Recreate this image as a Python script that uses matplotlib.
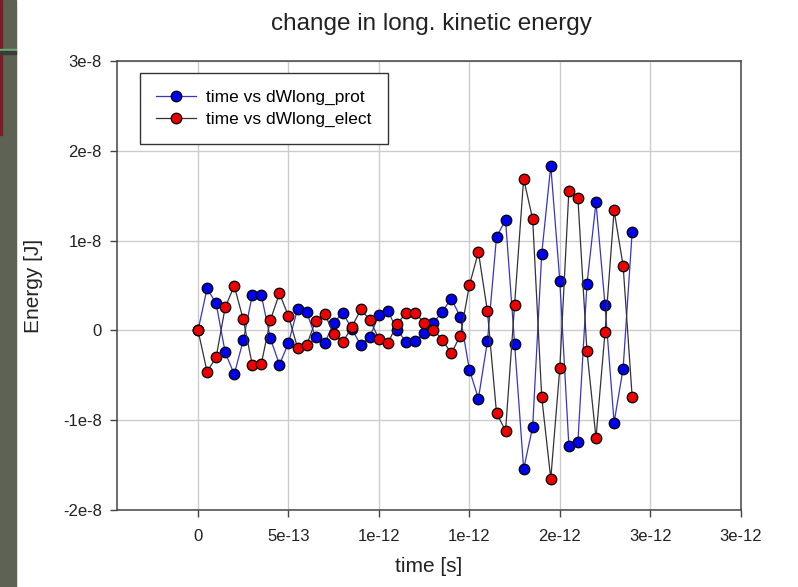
import matplotlib
matplotlib.use("Agg")
import matplotlib.pyplot as plt
from matplotlib.patches import Rectangle

plt.rcParams['font.family'] = ['Liberation Sans', 'DejaVu Sans']

# time in ps, energies in 1e-8 J
time_ps = [0.00, 0.05, 0.10, 0.15, 0.20, 0.25, 0.30, 0.35, 0.40, 0.45,
           0.50, 0.55, 0.60, 0.65, 0.70, 0.75, 0.80, 0.85, 0.90, 0.95,
           1.00, 1.05, 1.10, 1.15, 1.20, 1.25, 1.30, 1.35, 1.40, 1.45,
           1.50, 1.55, 1.60, 1.65, 1.70, 1.75, 1.80, 1.85, 1.90, 1.95,
           2.00, 2.05, 2.10, 2.15, 2.20, 2.25, 2.30, 2.35, 2.40]

dw_prot = [0, 0.467, 0.30, -0.244, -0.489, -0.111, 0.396, 0.389, -0.089, -0.381,
           -0.141, 0.237, 0.207, -0.078, -0.144, 0.085, 0.196, 0.019, -0.167, -0.07,
           0.174, 0.215, 0.004, -0.124, -0.12, -0.032, 0.08, 0.21, 0.354, 0.15,
           -0.438, -0.759, -0.12, 1.04, 1.23, -0.148, -1.544, -1.074, 0.853, 1.833,
           0.552, -1.285, -1.244, 0.514, 1.425, 0.281, -1.026, -0.426, 1.098]

dw_elect = [0, -0.46, -0.30, 0.256, 0.496, 0.122, -0.385, -0.37, 0.115, 0.411,
            0.159, -0.193, -0.167, 0.107, 0.185, -0.037, -0.133, 0.037, 0.233, 0.119,
            -0.096, -0.141, 0.07, 0.195, 0.195, 0.083, 0.009, -0.102, -0.256, -0.058,
            0.502, 0.872, 0.211, -0.918, -1.12, 0.287, 1.688, 1.239, -0.744, -1.652,
            -0.419, 1.551, 1.473, -0.23, -1.196, -0.019, 1.336, 0.72, -0.741]

x_ticks = [0, 5e-13, 1e-12, 1.5e-12, 2e-12, 2.5e-12, 3e-12]
x_tick_labels = ["0", "5e-13", "1e-12", "1e-12", "2e-12", "3e-12", "3e-12"]
y_ticks = [-2e-8, -1e-8, 0, 1e-8, 2e-8, 3e-8]
y_tick_labels = ["-2e-8", "-1e-8", "0", "1e-8", "2e-8", "3e-8"]

t = [v * 1e-12 for v in time_ps]
prot = [v * 1e-8 for v in dw_prot]
elect = [v * 1e-8 for v in dw_elect]

W, H = 798, 587
fig = plt.figure(figsize=(W / 100, H / 100), dpi=100)

# slide background strip on the left
fig.patches.append(Rectangle((0, 0), 16 / W, 1, transform=fig.transFigure,
                             color="#5e6254", zorder=0))
fig.patches.append(Rectangle((0, 1 - 135 / H), 1.5 / W, 135 / H, transform=fig.transFigure,
                             color="#7a1e22", zorder=1))
fig.patches.append(Rectangle((0, 1 - 50.5 / H), 16 / W, 2 / H, transform=fig.transFigure,
                             color="#6fa878", zorder=1))
fig.patches.append(Rectangle((0, 1 - 53.5 / H), 16 / W, 2.5 / H, transform=fig.transFigure,
                             color="#3a3d35", zorder=1))

ax = fig.add_axes([117 / W, 77 / H, 623.7 / W, 449 / H])

ax.plot(t, prot, color="#3535c8", lw=0.9, marker="o", ms=7.6,
        mfc="#0000ee", mec="black", mew=0.9, label="time vs dWlong_prot", zorder=3)
ax.plot(t, elect, color="#333333", lw=0.9, marker="o", ms=7.6,
        mfc="#ee0000", mec="black", mew=0.9, label="time vs dWlong_elect", zorder=4)

ax.set_xlim(-4.48e-13, 3e-12)
ax.set_ylim(-2e-8, 3e-8)
ax.set_xticks(x_ticks)
ax.set_xticklabels(x_tick_labels)
ax.set_yticks(y_ticks)
ax.set_yticklabels(y_tick_labels)
ax.grid(True, color="#cccccc", lw=1.0)
ax.set_axisbelow(True)

for s in ax.spines.values():
    s.set_color("#444444")
    s.set_linewidth(1.1)

ax.tick_params(axis="both", direction="out", length=5, width=1, color="#444444",
               labelsize=12, labelcolor="#222222")
ax.tick_params(axis="x", pad=9)
ax.tick_params(axis="y", pad=6)

ax.set_xlabel("time [s]", fontsize=15, color="#222222")
ax.xaxis.set_label_coords(0.5, -0.105)
ax.set_ylabel("Energy [J]", fontsize=15, color="#222222")
ax.yaxis.set_label_coords(-0.119, 0.5)

fig.text(431 / W, 1 - 24 / H, "change in long. kinetic energy", fontsize=17.5,
         ha="center", va="center", color="#222222")

leg = ax.legend(loc="upper left", bbox_to_anchor=(23 / 623.7, (449 - 12) / 449),
                borderaxespad=0, fontsize=12.5, handlelength=2.3, handletextpad=0.55,
                borderpad=0.95, labelspacing=0.42, fancybox=False, framealpha=1)
leg.get_frame().set_edgecolor("#333333")
leg.get_frame().set_linewidth(1.0)

fig.savefig("out.png", dpi=100)
